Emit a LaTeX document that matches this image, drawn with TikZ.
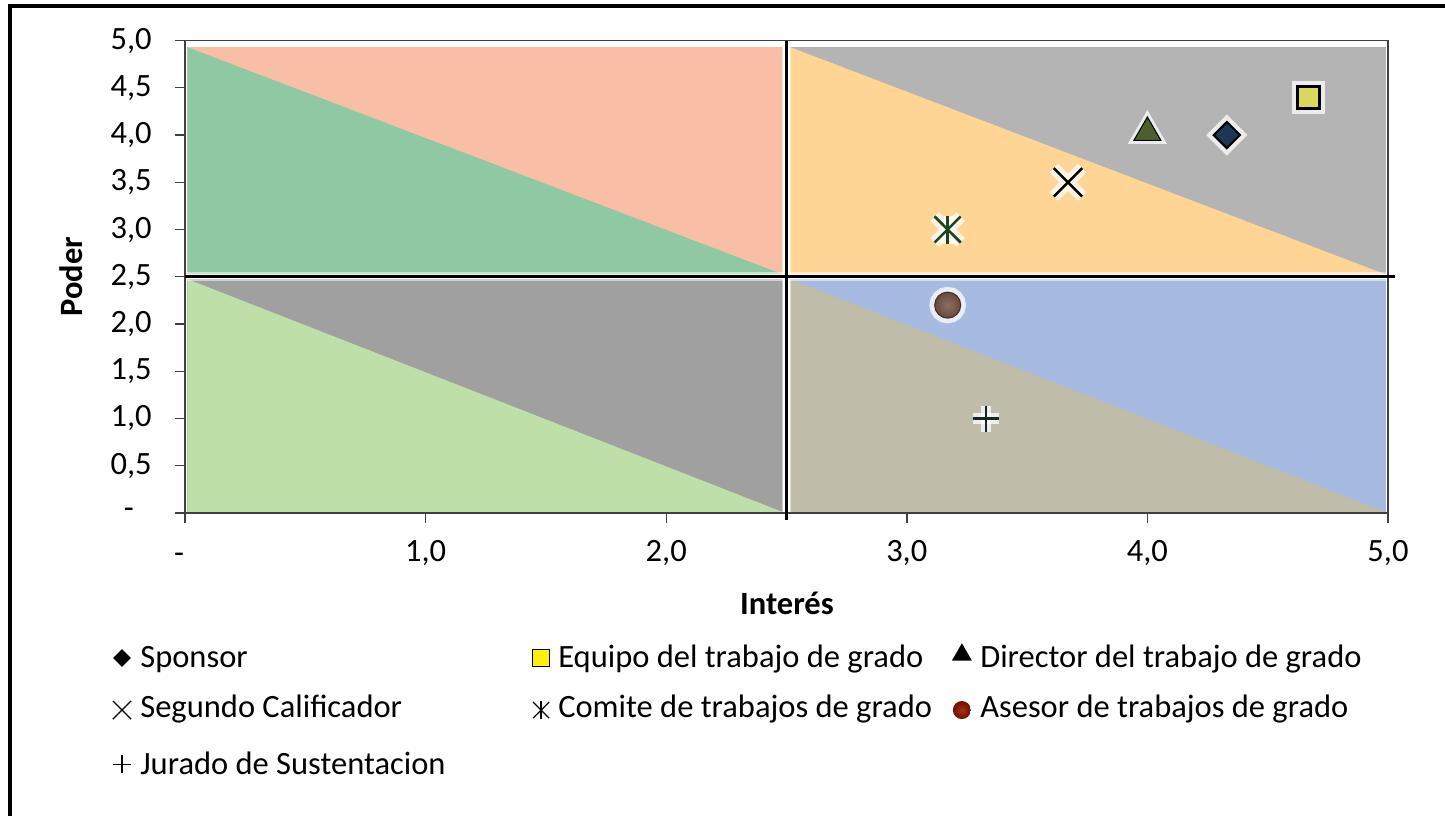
\documentclass[tikz,border=0pt]{standalone}
\usepackage{fontspec}
\setmainfont{Carlito}
\usetikzlibrary{shapes.geometric,shapes.misc}

\definecolor{qsalmon}{HTML}{F8BFA6}
\definecolor{qgreen}{HTML}{8FC9A4}
\definecolor{qorange}{HTML}{FFD596}
\definecolor{qgray}{HTML}{B4B4B4}
\definecolor{qlgreen}{HTML}{BFDFA9}
\definecolor{qdgray}{HTML}{A0A0A0}
\definecolor{qtan}{HTML}{BFBCA9}
\definecolor{qblue}{HTML}{A7BBE2}
\definecolor{axisgray}{HTML}{404040}
\definecolor{navy}{HTML}{1C3658}
\definecolor{olive}{HTML}{4F5F2A}
\definecolor{mustard}{HTML}{D8D85E}
\definecolor{astgreen}{HTML}{1E461E}
\definecolor{plusdark}{HTML}{142828}
\definecolor{brownin}{HTML}{8C7064}
\definecolor{brownout}{HTML}{684A3C}
\definecolor{browndraw}{HTML}{462D23}
\definecolor{redin}{HTML}{AA3214}
\definecolor{redout}{HTML}{6E0F00}

\tikzset{
  glow/.style={preaction={draw=white,line width=#1,opacity=0.75}},
  glow/.default=6pt,
  ticklab/.style={inner sep=0pt},
  legtext/.style={anchor=base west,inner sep=0pt},
  axtitle/.style={font=\fontsize{18.5}{22}\selectfont\bfseries}
}

\begin{document}
\begin{tikzpicture}[x=4.812cm,y=1.89cm,font=\fontsize{18.5}{22}\selectfont]
\useasboundingbox (-0.769,-3.206) rectangle (5.237,5.429);

% outer frame
\draw[line width=2.2pt] (-0.727,-3.206) -- (-0.727,5.365) -- (5.237,5.365);

% quadrants
\fill[qsalmon] (0.01,2.525) rectangle (2.485,4.93);
\fill[qgreen] (0.01,4.93) -- (2.485,2.525) -- (0.01,2.525) -- cycle;
\fill[qgray] (2.515,2.525) rectangle (4.99,4.93);
\fill[qorange] (2.515,4.93) -- (4.99,2.525) -- (2.515,2.525) -- cycle;
\fill[qdgray] (0.01,0.01) rectangle (2.485,2.475);
\fill[qlgreen] (0.01,2.475) -- (2.485,0.01) -- (0.01,0.01) -- cycle;
\fill[qblue] (2.515,0.01) rectangle (4.99,2.475);
\fill[qtan] (2.515,2.475) -- (4.99,0.01) -- (2.515,0.01) -- cycle;

% soft edges
\draw[white,line width=5pt,opacity=0.5] (0,2.5) -- (5,2.5);
\draw[white,line width=5pt,opacity=0.5] (2.5,0) -- (2.5,4.95);

% plot border and axes
\draw[axisgray,line width=0.8pt] (-0.042,5) -- (5,5) -- (5,-0.105);
\draw[axisgray,line width=0.8pt] (0,5) -- (0,-0.105);
\draw[axisgray,line width=0.8pt] (-0.042,0) -- (5,0);
\foreach \y in {0.5,1,...,4.5}
  \draw[axisgray,line width=0.8pt] (-0.042,\y) -- (0,\y);
\foreach \x in {1,...,4}
  \draw[axisgray,line width=0.8pt] (\x,0) -- (\x,-0.105);

% middle lines
\draw[line width=1.7pt] (0,2.5) -- (5.03,2.5);
\draw[line width=1.7pt] (2.5,-0.07) -- (2.5,5);

% tick labels
\foreach \y/\lab [count=\i] in {0.5/{0,5},1/{1,0},1.5/{1,5},2/{2,0},2.5/{2,5},3/{3,0},3.5/{3,5},4/{4,0},4.5/{4,5},5/{5,0}}
  \node[ticklab,anchor=east] (ytick\i) at (-0.137,\y) {\lab};
\node[ticklab] (ytick0) at (-0.233,0) {-};
\foreach \x/\lab [count=\i] in {1/{1,0},2/{2,0},3/{3,0},4/{4,0},5/{5,0}}
  \node[ticklab] (xtick\i) at (\x,-0.423) {\lab};
\node[ticklab] (xtick0) at (-0.025,-0.476) {-};

% axis titles
\node[axtitle,rotate=90] (poder) at (-0.474,2.5) {Poder};
\node[axtitle] (interes) at (2.502,-0.952) {Interés};

% data points
\coordinate (psponsor) at (4.33,4.0);
\coordinate (pequipo) at (4.67,4.4);
\coordinate (pdirector) at (4.0,4.0);
\coordinate (psegundo) at (3.67,3.5);
\coordinate (pcomite) at (3.17,3.0);
\coordinate (pasesor) at (3.17,2.2);
\coordinate (pjurado) at (3.33,1.0);

\node[diamond,minimum size=0.54cm,inner sep=0pt,glow,fill=navy,draw=black,line width=1.2pt] (sponsor) at (psponsor) {};
\node[rectangle,minimum size=0.44cm,inner sep=0pt,glow,fill=mustard,draw=black,line width=1.8pt] (equipo) at (pequipo) {};
\node[regular polygon,regular polygon sides=3,minimum size=0.62cm,inner sep=0pt,glow=4pt,fill=olive,draw=black,line width=0.6pt] (director) at ([yshift=0.05cm]pdirector) {};
\node[cross out,minimum size=0.52cm,inner sep=0pt,glow=7pt,draw=black,line width=1.4pt] (segundo) at (psegundo) {};
\begin{scope}[shift={(pcomite)},astgreen,line width=1.4pt]
  \draw[glow=7pt] (0,0.28cm) -- (0,-0.28cm);
  \draw[glow=7pt] (-0.26cm,0.26cm) -- (0.26cm,-0.26cm);
  \draw[glow=7pt] (-0.26cm,-0.26cm) -- (0.26cm,0.26cm);
  \draw (0,0.28cm) -- (0,-0.28cm);
  \draw (-0.26cm,0.26cm) -- (0.26cm,-0.26cm);
\end{scope}
\node[circle,minimum size=0.52cm,inner sep=0pt,glow,inner color=brownin,outer color=brownout,draw=browndraw,line width=0.6pt] (asesor) at (pasesor) {};
\begin{scope}[shift={(pjurado)},plusdark,line width=1.3pt]
  \draw[glow=6pt] (-0.26cm,0) -- (0.26cm,0);
  \draw[glow=6pt] (0,0.26cm) -- (0,-0.26cm);
  \draw (-0.26cm,0) -- (0.26cm,0);
\end{scope}

% legend
\node[diamond,minimum size=0.36cm,inner sep=0pt,fill=black] (legsponsor) at (-0.262,-1.534) {};
\node[legtext] (txtsponsor) at (-0.187,-1.63) {Sponsor};
\node[rectangle,minimum size=0.34cm,inner sep=0pt,fill=yellow,draw=black,line width=0.6pt] (legequipo) at (1.480,-1.534) {};
\node[legtext] (txtequipo) at (1.550,-1.63) {Equipo del trabajo de grado};
\node[regular polygon,regular polygon sides=3,minimum size=0.46cm,inner sep=0pt,fill=black] (legdirector) at (3.229,-1.50) {};
\node[legtext] (txtdirector) at (3.304,-1.63) {Director del trabajo de grado};

\node[cross out,minimum size=0.34cm,inner sep=0pt,draw=black,line width=0.7pt] (legsegundo) at (-0.262,-2.085) {};
\node[legtext] (txtsegundo) at (-0.187,-2.169) {Segundo Calificador};
\begin{scope}[shift={(1.480,-2.085)},line width=0.7pt]
  \draw (0,0.18cm) -- (0,-0.18cm);
  \draw (-0.16cm,0.16cm) -- (0.16cm,-0.16cm);
  \draw (-0.16cm,-0.16cm) -- (0.16cm,0.16cm);
\end{scope}
\node[legtext] (txtcomite) at (1.550,-2.169) {Comite de trabajos de grado};
\node[circle,minimum size=0.36cm,inner sep=0pt,inner color=redin,outer color=redout] (legasesor) at (3.229,-2.085) {};
\node[legtext] (txtasesor) at (3.304,-2.169) {Asesor de trabajos de grado};

\begin{scope}[shift={(-0.262,-2.66)},line width=0.7pt]
  \draw (-0.18cm,0) -- (0.18cm,0);
  \draw (0,0.18cm) -- (0,-0.18cm);
\end{scope}
\node[legtext] (txtjurado) at (-0.187,-2.772) {Jurado de Sustentacion};

\end{tikzpicture}
\end{document}
